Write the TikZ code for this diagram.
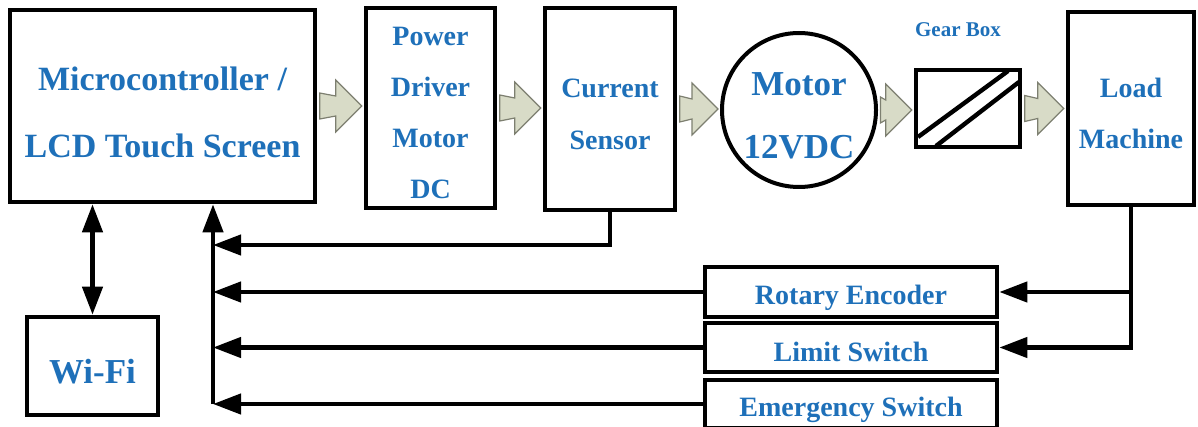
\documentclass[tikz,border=0pt]{standalone}
\usepackage{fontspec}
\setmainfont{Liberation Serif}
\usetikzlibrary{arrows.meta,calc}
\definecolor{labelblue}{RGB}{30,112,185}
\definecolor{arrowfill}{RGB}{216,219,199}
\definecolor{arrowedge}{RGB}{125,127,112}
% hollow block arrow between two blocks
\newcommand\fatarrow[2]{%
 \path[fatarrow] let \p1=(#1), \p2=(#2) in
  (\x1+1.2pt,\y1+6.5pt) -- (\x2-14pt,\y1+5pt) -- (\x2-14pt,\y1+13pt) -- (\x2-1pt,\y1)
  -- (\x2-14pt,\y1-13pt) -- (\x2-14pt,\y1-5pt) -- (\x1+1.2pt,\y1-6.5pt) -- cycle;}
\begin{document}
\begin{tikzpicture}[x=.5pt,y=-.5pt,
                    box/.style={draw,line width=2.3pt,fill=white,text=labelblue,inner sep=0pt,
                                align=center,font=\bfseries\fontsize{14}{25.5}\selectfont},
                    bigbox/.style={box,font=\bfseries\fontsize{17}{33.5}\selectfont},
                    link/.style={line width=2.2pt},
                    bigtip/.tip={Triangle[length=14pt,width=10pt]},
                    fatarrow/.style={fill=arrowfill,draw=arrowedge,line width=.6pt}]
 \useasboundingbox (0,0) rectangle (1198,427);
 % top row
 \node[bigbox,minimum width=152.5pt,minimum height=96pt] (mcu) at (162.5,106)
      {\rule{0pt}{18.5pt}Microcontroller /\\LCD Touch Screen};
 \node[box,minimum width=64.5pt,minimum height=100pt] (drv) at (430.5,108)
      {\rule{0pt}{14.5pt}Power\\Driver\\Motor\\DC};
 \node[box,minimum width=65pt,minimum height=101pt,font=\bfseries\fontsize{14}{26}\selectfont] (cs) at (610,109)
      {\rule{0pt}{15pt}Current\\Sensor};
 \node[bigbox,circle,line width=2pt,minimum size=77pt,font=\bfseries\fontsize{17.5}{31.5}\selectfont] (motor) at (799,110)
      {\rule{0pt}{17pt}Motor\\12VDC};
 \node[box,minimum width=52pt,minimum height=38.5pt] (gear) at (968,108.5) {};
 \node[text=labelblue,font=\bfseries\fontsize{10.5}{12}\selectfont] (gearlbl) at (958,30) {Gear Box};
 \draw[line width=2.2pt] (918,137) -- (1008,71);
 \draw[line width=2.2pt] (936,146) -- (1019,82);
 \node[box,minimum width=63pt,minimum height=96.5pt] (load) at (1131,108.5)
      {\rule{0pt}{14.5pt}Load\\Machine};
 % bottom
 \node[bigbox,minimum width=65.5pt,minimum height=49pt,font=\bfseries\fontsize{17.5}{20}\selectfont] (wifi) at (92.5,366)
      {\rule{0pt}{18pt}Wi-Fi};
 \node[box,minimum width=146pt,minimum height=25pt] (enc) at (851,292) {\rule{0pt}{15.5pt}Rotary Encoder};
 \node[box,minimum width=146pt,minimum height=24.5pt] (lim) at (851,347.5) {\rule{0pt}{14.5pt}Limit Switch};
 \node[box,minimum width=146pt,minimum height=24pt] (emg) at (851,404) {\rule{0pt}{15.5pt}Emergency Switch};
 % block arrows
 \fatarrow{mcu.east}{drv.west}
 \fatarrow{drv.east}{cs.west}
 \fatarrow{cs.east}{motor.west}
 \fatarrow{motor.east}{gear.west}
 \fatarrow{gear.east}{load.west}
 % feedback lines
 \coordinate (bus) at (213,0);
 \coordinate (fb) at (213,245);
 \draw[link,{bigtip}-{bigtip}] (wifi.north) -- (wifi.north |- mcu.south);
 \draw[link,-{bigtip}] (emg.west -| bus) -- (bus |- mcu.south);
 \draw[link,-{bigtip}] (cs.south) |- (fb);
 \draw[link,-{bigtip}] (enc.west) -- (enc.west -| bus);
 \draw[link,-{bigtip}] (lim.west) -- (lim.west -| bus);
 \draw[link,-{bigtip}] (emg.west) -- (emg.west -| bus);
 \draw[link,-{bigtip}] (load.south) |- (lim.east);
 \draw[link,-{bigtip}] (load.south |- enc.east) -- (enc.east);
\end{tikzpicture}
\end{document}
